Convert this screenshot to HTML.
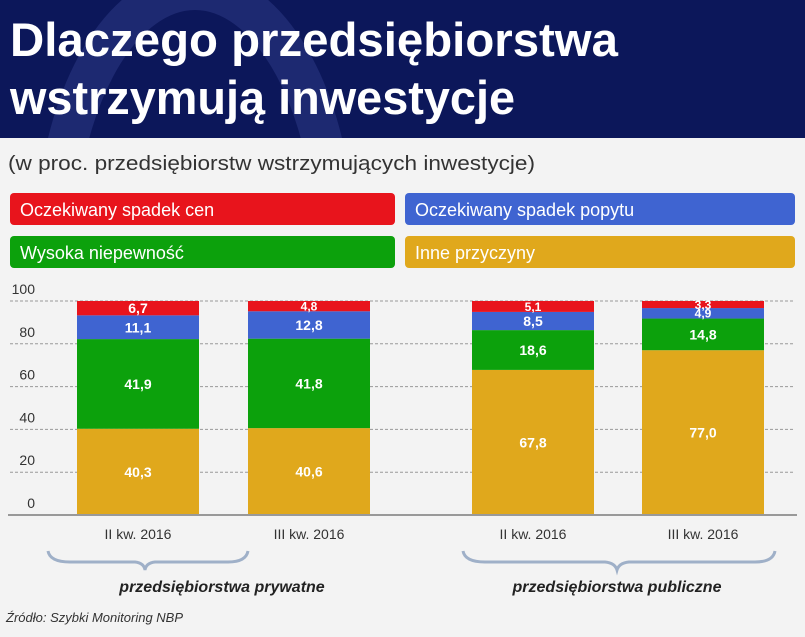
<!DOCTYPE html>
<html><head><meta charset="utf-8"><style>
body{margin:0;width:805px;height:632px;overflow:hidden;background:#f3f3f3;font-family:"Liberation Sans",sans-serif}
</style></head><body>
<svg width="805" height="632" xmlns="http://www.w3.org/2000/svg">
<defs><clipPath id="hc"><rect x="0" y="0" width="805" height="138"/></clipPath></defs>
<rect x="0" y="0" width="805" height="632" fill="#f3f3f3"/>
<rect x="0" y="0" width="805" height="138" fill="#0c175a"/>
<ellipse cx="195" cy="250" rx="140" ry="260" fill="none" stroke="#2a3680" stroke-width="40" opacity="0.6" clip-path="url(#hc)"/>
<text x="10" y="56" fill="#fff" font-size="47" font-weight="bold" textLength="608" lengthAdjust="spacingAndGlyphs">Dlaczego przedsiębiorstwa</text>
<text x="10" y="114" fill="#fff" font-size="47" font-weight="bold" textLength="505" lengthAdjust="spacingAndGlyphs">wstrzymują inwestycje</text>
<text x="8" y="170" fill="#333" font-size="20" textLength="527" lengthAdjust="spacingAndGlyphs">(w proc. przedsiębiorstw wstrzymujących inwestycje)</text>
<g>
<rect x="10" y="193" width="385" height="32" rx="4" fill="#e8141c"/>
<text x="20" y="216" fill="#fff" font-size="18">Oczekiwany spadek cen</text>
<rect x="405" y="193" width="390" height="32" rx="4" fill="#3f64d1"/>
<text x="415" y="216" fill="#fff" font-size="18">Oczekiwany spadek popytu</text>
<rect x="10" y="236" width="385" height="32" rx="4" fill="#0ca10c"/>
<text x="20" y="259" fill="#fff" font-size="18">Wysoka niepewność</text>
<rect x="405" y="236" width="390" height="32" rx="4" fill="#e0a81c"/>
<text x="415" y="259" fill="#fff" font-size="18">Inne przyczyny</text>
</g>
<g id="plot"></g>
<path d="M48 551 Q50 562 70 562 L135 562 Q144 563 145 570 Q146 563 155 562 L228 562 Q246 562 248 551" fill="none" stroke="#9fb0c8" stroke-width="3"/>
<path d="M463 551 Q465 562 485 562 L605 562 Q615 563 617 570 Q619 563 629 562 L755 562 Q773 562 775 551" fill="none" stroke="#9fb0c8" stroke-width="3"/>
<text x="222" y="592" text-anchor="middle" font-size="16" font-weight="bold" font-style="italic" fill="#222">przedsiębiorstwa prywatne</text>
<text x="617" y="592" text-anchor="middle" font-size="16" font-weight="bold" font-style="italic" fill="#222">przedsiębiorstwa publiczne</text>
<text x="6" y="622" font-size="13" font-style="italic" fill="#333">Źródło: Szybki Monitoring NBP</text>
</svg>
<script>
const categories=["II kw. 2016","III kw. 2016","II kw. 2016","III kw. 2016"];
const other=[40.3,40.6,67.8,77.0];
const uncertainty=[41.9,41.8,18.6,14.8];
const demand=[11.1,12.8,8.5,4.9];
const price=[6.7,4.8,5.1,3.3];
const yTicks=[0,20,40,60,80,100];
const barX=[77,248,472,642];
const barW=122;
const NS="http://www.w3.org/2000/svg";
const g=document.getElementById('plot');
function y(v){return 515-2.14*v;}
function mk(t,a){const e=document.createElementNS(NS,t);for(const k in a)e.setAttribute(k,a[k]);g.appendChild(e);return e;}
yTicks.forEach(t=>{
 if(t>0){const l=mk('line',{x1:10,x2:795,y1:y(t),y2:y(t),stroke:'#999','stroke-dasharray':'3,2','stroke-width':1});
 
 }
 const tx=mk('text',{x:35,y:y(t)-7,'text-anchor':'end','font-size':14,fill:'#333'});tx.textContent=t;
 
 
});
const series=[[other,'#e0a81c','other'],[uncertainty,'#0ca10c','uncertainty'],[demand,'#3f64d1','demand'],[price,'#e8141c','price']];
categories.forEach((c,i)=>{
 let base=0;
 series.forEach(([arr,col,nm])=>{
  const v=arr[i];
  const r=mk('rect',{x:barX[i],y:y(base+v),width:barW,height:2.14*v,fill:col});
  
  
  const fs=v<6?12:14;
  const t=mk('text',{x:barX[i]+barW/2,y:y(base+v/2)+fs*0.36,'text-anchor':'middle','font-size':fs,'font-weight':'bold',fill:'#fff'});
  t.textContent=v.toFixed(1).replace('.',',');
  
  
  base+=v;
 });
 const xl=mk('text',{x:barX[i]+barW/2,y:539,'text-anchor':'middle','font-size':14,fill:'#333'});
 xl.textContent=c;
 
 
});
const ax=mk('line',{x1:8,x2:797,y1:515,y2:515,stroke:'#999','stroke-width':2});


</script>
</body></html>
